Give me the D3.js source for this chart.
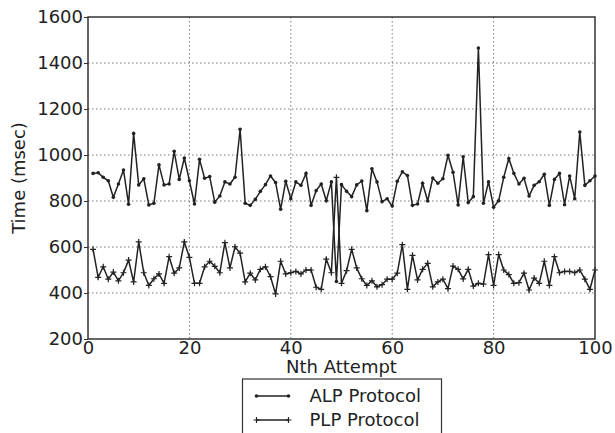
<!DOCTYPE html>
<html>
<head>
<meta charset="utf-8">
<script src="https://cdn.jsdelivr.net/npm/d3@7"></script>
<style>
  body { margin: 0; background: #fff; }
  text { font-family: "DejaVu Sans", sans-serif; }
</style>
</head>
<body>
<div id="chart"></div>
<script>
// attempt numbers 1..100
var attempts = d3.range(1, 101);

var alpTimes = [
  920, 923, 903, 888, 816, 874, 935, 786, 1094, 870,
  897, 783, 790, 957, 870, 874, 1016, 894, 987, 888,
  787, 981, 899, 906, 795, 822, 883, 874, 903, 1112,
  790, 781, 807, 842, 871, 909, 880, 764, 886, 810,
  883, 868, 920, 781, 845, 874, 801, 883, 450, 871,
  842, 819, 870, 887, 758, 940, 883, 797, 810, 778,
  886, 927, 911, 781, 787, 877, 800, 900, 877, 897,
  999, 925, 783, 992, 793, 819, 1465, 790, 883, 773,
  801, 903, 985, 920, 874, 899, 822, 868, 884, 916,
  781, 894, 920, 784, 909, 810, 1100, 868, 888, 909
];

var plpTimes = [
  590, 468, 514, 460, 491, 453, 488, 543, 448, 622,
  488, 433, 462, 483, 442, 558, 486, 509, 622, 555,
  442, 442, 514, 538, 516, 488, 619, 509, 601, 573,
  448, 486, 457, 503, 514, 471, 396, 538, 483, 488,
  494, 483, 500, 500, 425, 416, 547, 488, 903, 442,
  497, 590, 509, 462, 433, 453, 427, 436, 460, 460,
  486, 610, 416, 564, 457, 503, 529, 427, 448, 460,
  419, 517, 503, 461, 503, 430, 442, 439, 567, 433,
  567, 500, 480, 442, 445, 486, 413, 465, 442, 538,
  433, 558, 488, 494, 494, 488, 500, 460, 416, 500
];

var xTicks = [0, 20, 40, 60, 80, 100];
var yTicks = [200, 400, 600, 800, 1000, 1200, 1400, 1600];
var seriesNames = ["ALP Protocol", "PLP Protocol"];

var margin = {top: 17, right: 20, bottom: 94, left: 88},
    width = 615 - margin.left - margin.right,
    height = 433 - margin.top - margin.bottom;

var svg = d3.select("#chart")
  .append("svg")
    .attr("width", 615)
    .attr("height", 433)
  .append("g")
    .attr("transform", "translate(" + margin.left + "," + margin.top + ")");

var x = d3.scaleLinear().domain([0, 100]).range([0, width]);
var y = d3.scaleLinear().domain([200, 1600]).range([height, 0]);

// dotted grid
svg.append("g")
  .selectAll("line.vg")
  .data(xTicks.slice(1, -1))
  .enter().append("line")
    .attr("x1", function(d) { return x(d); })
    .attr("x2", function(d) { return x(d); })
    .attr("y1", 0).attr("y2", height)
    .attr("stroke", "#555").attr("stroke-width", 0.8)
    .attr("stroke-dasharray", "1.5,2.5");

svg.append("g")
  .selectAll("line.hg")
  .data(yTicks.slice(1, -1))
  .enter().append("line")
    .attr("x1", 0).attr("x2", width)
    .attr("y1", function(d) { return y(d); })
    .attr("y2", function(d) { return y(d); })
    .attr("stroke", "#555").attr("stroke-width", 0.8)
    .attr("stroke-dasharray", "1.5,2.5");

// axes
var xAxis = svg.append("g")
  .attr("transform", "translate(0," + height + ")")
  .call(d3.axisBottom(x).tickValues(xTicks).tickFormat(d3.format("d")).tickSize(0).tickPadding(2));
xAxis.select(".domain").remove();
xAxis.selectAll("text").style("font-size", "18px").attr("fill", "#222");

var yAxis = svg.append("g")
  .call(d3.axisLeft(y).tickValues(yTicks).tickFormat(d3.format("d")).tickSize(4).tickPadding(1));
yAxis.select(".domain").remove();
yAxis.selectAll("line").attr("stroke", "#333");
yAxis.selectAll("text").style("font-size", "18px").attr("fill", "#222");

svg.append("rect")
  .attr("width", width).attr("height", height)
  .attr("fill", "none").attr("stroke", "#333").attr("stroke-width", 1.5);

svg.append("text")
  .attr("x", width / 2)
  .attr("y", height + 34)
  .attr("text-anchor", "middle")
  .attr("fill", "#222")
  .style("font-size", "18px")
  .text("Nth Attempt");

svg.append("text")
  .attr("transform", "rotate(-90)")
  .attr("x", -height / 2)
  .attr("y", -margin.left + 25)
  .attr("text-anchor", "middle")
  .attr("fill", "#222")
  .style("font-size", "18px")
  .text("Time (msec)");

// series
var line = d3.line()
  .x(function(d) { return x(d[0]); })
  .y(function(d) { return y(d[1]); });

var alpData = attempts.map(function(a, i) { return [a, alpTimes[i]]; });
var plpData = attempts.map(function(a, i) { return [a, plpTimes[i]]; });

svg.append("path").datum(plpData)
  .attr("d", line).attr("fill", "none")
  .attr("stroke", "#222").attr("stroke-width", 1.5);

svg.append("g").selectAll("path")
  .data(plpData)
  .enter().append("path")
    .attr("d", function(d) {
      var px = x(d[0]), py = y(d[1]);
      return "M" + (px - 3) + "," + py + "H" + (px + 3) + "M" + px + "," + (py - 3) + "V" + (py + 3);
    })
    .attr("stroke", "#222").attr("stroke-width", 1.2);

svg.append("path").datum(alpData)
  .attr("d", line).attr("fill", "none")
  .attr("stroke", "#222").attr("stroke-width", 1.5);

svg.append("g").selectAll("circle")
  .data(alpData)
  .enter().append("circle")
    .attr("cx", function(d) { return x(d[0]); })
    .attr("cy", function(d) { return y(d[1]); })
    .attr("r", 1.8)
    .attr("fill", "#222");

// legend
var legend = svg.append("g")
  .attr("transform", "translate(" + (width / 2 - 99) + "," + (height + 40) + ")");

legend.append("rect")
  .attr("width", 199).attr("height", 56)
  .attr("fill", "#fff").attr("stroke", "#333").attr("stroke-width", 1.2);

seriesNames.forEach(function(name, i) {
  var ly = 17 + i * 24;
  legend.append("line")
    .attr("x1", 14).attr("x2", 46).attr("y1", ly).attr("y2", ly)
    .attr("stroke", "#222").attr("stroke-width", 1.5);
  [14, 46].forEach(function(mx) {
    if (i === 0) {
      legend.append("circle").attr("cx", mx).attr("cy", ly).attr("r", 1.8).attr("fill", "#222");
    } else {
      legend.append("path")
        .attr("d", "M" + (mx - 3) + "," + ly + "H" + (mx + 3) + "M" + mx + "," + (ly - 3) + "V" + (ly + 3))
        .attr("stroke", "#222").attr("stroke-width", 1.2);
    }
  });
  legend.append("text")
    .attr("x", 67).attr("y", ly)
    .attr("dy", "0.35em")
    .attr("fill", "#222")
    .style("font-size", "18px")
    .text(name);
});
</script>
</body>
</html>
